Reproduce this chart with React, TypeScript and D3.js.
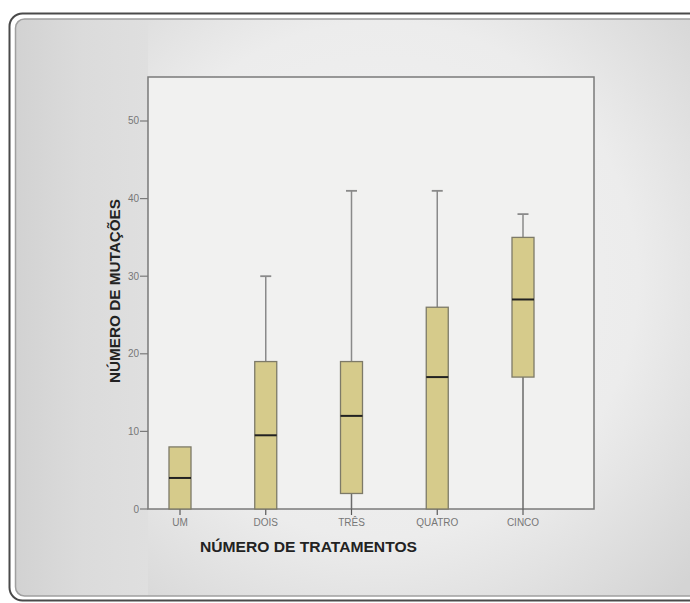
import React from "react";
import * as d3 from "d3";

// Treatment groups and box-plot statistics (mutation counts)
const categories = ["UM", "DOIS", "TRÊS", "QUATRO", "CINCO"];
const lowerWhisker = [0, 0, 0, 0, 0];
const q1 = [0, 0, 2, 0, 17];
const median = [4, 9.5, 12, 17, 27];
const q3 = [8, 19, 19, 26, 35];
const upperWhisker = [8, 30, 41, 41, 38];
const yTicks = [0, 10, 20, 30, 40, 50];

const W = 690;
const H = 603;
const frame = { left: 148, right: 594, top: 77, bottom: 509 };

export default function App() {
  const y = d3.scaleLinear().domain([0, 55.67]).range([frame.bottom, frame.top]);
  const x = d3.scalePoint<string>().domain(categories).range([180, 523]);
  const boxW = 22;
  const capW = 11;

  return (
    <svg
      width={W}
      height={H}
      style={{ position: "absolute", left: 0, top: 0, display: "block" }}
      fontFamily="'Liberation Sans', Arial, sans-serif"
    >
      <defs>
        <radialGradient id="bg" cx="380" cy="280" r="430" gradientUnits="userSpaceOnUse">
          <stop offset="0" stopColor="#f3f3f3" />
          <stop offset="0.6" stopColor="#ececec" />
          <stop offset="1" stopColor="#d4d4d4" />
        </radialGradient>
        <linearGradient id="side" x1="0" y1="0" x2="1" y2="0">
          <stop offset="0" stopColor="#d2d2d2" />
          <stop offset="0.5" stopColor="#dbdbdb" />
          <stop offset="1" stopColor="#dfdfdf" />
        </linearGradient>
        <clipPath id="panel">
          <rect x={15} y={19} width={W} height={577} rx={9} />
        </clipPath>
      </defs>

      <rect x={0} y={0} width={W} height={H} fill="#ffffff" />

      {/* card background */}
      <g clipPath="url(#panel)">
        <rect x={15} y={19} width={W} height={577} fill="url(#bg)" />
        <rect x={15} y={19} width={133} height={577} fill="url(#side)" />
      </g>
      <rect x={9.5} y={13.5} width={W + 20} height={587} rx={13} fill="none" stroke="#4a4a4a" strokeWidth={2} />
      <rect x={15.5} y={19} width={W + 20} height={577} rx={9} fill="none" stroke="#a0a0a0" strokeWidth={1.5} />

      {/* plot frame */}
      <rect
        x={frame.left}
        y={frame.top}
        width={frame.right - frame.left}
        height={frame.bottom - frame.top}
        fill="#f1f1f0"
        stroke="#7a7a7a"
        strokeWidth={1.5}
      />

      {/* y axis ticks */}
      {yTicks.map((t) => (
        <g key={t}>
          <line x1={frame.left - 8} x2={frame.left} y1={y(t)} y2={y(t)} stroke="#7a7a7a" strokeWidth={1.2} />
          <text x={frame.left - 9} y={y(t) + 3.5} textAnchor="end" fontSize={10} fill="#777">
            {t}
          </text>
        </g>
      ))}

      {/* x axis ticks */}
      {categories.map((c) => (
        <g key={c}>
          <line x1={x(c)} x2={x(c)} y1={frame.bottom} y2={frame.bottom + 6} stroke="#5a5a5a" strokeWidth={1.2} />
          <text x={x(c)} y={frame.bottom + 17} textAnchor="middle" fontSize={10} fill="#777">
            {c}
          </text>
        </g>
      ))}

      {/* boxes */}
      {categories.map((c, i) => {
        const cx = x(c) as number;
        return (
          <g key={c}>
            {upperWhisker[i] > q3[i] && (
              <>
                <line x1={cx} x2={cx} y1={y(q3[i])} y2={y(upperWhisker[i])} stroke="#8a8a8a" strokeWidth={1.5} />
                <line
                  x1={cx - capW / 2}
                  x2={cx + capW / 2}
                  y1={y(upperWhisker[i])}
                  y2={y(upperWhisker[i])}
                  stroke="#8a8a8a"
                  strokeWidth={1.8}
                />
              </>
            )}
            {lowerWhisker[i] < q1[i] && (
              <line x1={cx} x2={cx} y1={y(q1[i])} y2={y(lowerWhisker[i])} stroke="#6a6a6a" strokeWidth={1.5} />
            )}
            <rect
              x={cx - boxW / 2}
              y={y(q3[i])}
              width={boxW}
              height={y(q1[i]) - y(q3[i])}
              fill="#d6cb8b"
              stroke="#7d7a68"
              strokeWidth={1.3}
            />
            <line
              x1={cx - boxW / 2}
              x2={cx + boxW / 2}
              y1={y(median[i])}
              y2={y(median[i])}
              stroke="#222"
              strokeWidth={2}
            />
          </g>
        );
      })}

      {/* axis titles */}
      <text x={200} y={552} fontSize={15} fontWeight="bold" fill="#222" textLength={217} lengthAdjust="spacingAndGlyphs">
        NÚMERO DE TRATAMENTOS
      </text>
      <text
        transform="translate(120,291) rotate(-90)"
        textAnchor="middle"
        fontSize={14.5}
        fontWeight="bold"
        fill="#222"
        textLength={184}
        lengthAdjust="spacingAndGlyphs"
      >
        NÚMERO DE MUTAÇÕES
      </text>
    </svg>
  );
}
